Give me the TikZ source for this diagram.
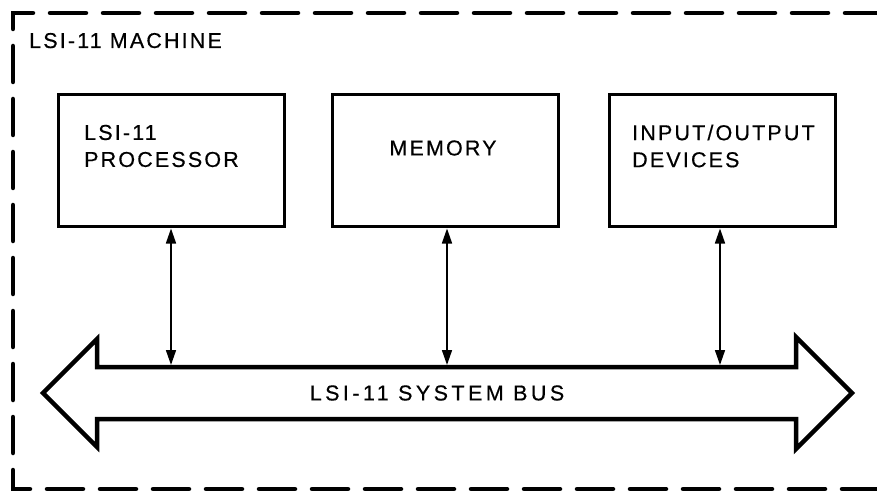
\documentclass[tikz,border=0pt]{standalone}
\usepackage{fontspec}
\setmainfont[LetterSpace=10,FakeBold=0.5]{Liberation Sans}
\newfontfamily\busfont[LetterSpace=16,FakeBold=0.5]{Liberation Sans}
\usetikzlibrary{arrows.meta}
\begin{document}
\begin{tikzpicture}[x=1pt,y=-1pt,
  blockbox/.style={draw,line width=3pt,minimum width=226pt,minimum height=132pt,inner sep=0pt},
  lbl/.style={font=\fontsize{21.5}{27}\selectfont,inner sep=0pt,align=left},
  buslink/.style={line width=1.6pt,{Triangle[length=15pt,width=10pt]}-{Triangle[length=15pt,width=10pt]}},
  frame/.style={line width=4.5pt,dash pattern=on 36pt off 17pt,dash phase=51pt,line cap=round,line join=miter}]
\useasboundingbox (0,0) rectangle (877,494);
% dashed machine frame
\coordinate (fbr) at (880,489);
\coordinate (fbl) at (13,489);
\coordinate (ftl) at (13,13);
\coordinate (ftr) at (880,13);
\draw[frame] (fbr) -- (fbl) -- (ftl) -- (ftr);
\node[lbl,anchor=base west] (mach) at (29,48) {LSI-11 MACHINE};
% blocks
\node[blockbox] (proc) at (171,161) {};
\node[blockbox] (mem) at (445.5,161) {};
\node[blockbox] (io) at (722,161) {};
\node[lbl,anchor=west] (proctxt) at (84,146) {LSI-11\\PROCESSOR};
\node[lbl] (memtxt) at (443,148) {MEMORY};
\node[lbl,anchor=west] (iotxt) at (632,146) {INPUT/OUTPUT\\DEVICES};
% bus
\draw[line width=4.5pt,line join=miter]
  (43,393) -- (97,339) -- (97,367) -- (796,367) -- (796,337) -- (852,393)
  -- (796,449) -- (796,419) -- (97,419) -- (97,447) -- cycle;
\node[lbl,font=\busfont\fontsize{21.5}{27}\selectfont] (bustxt) at (437,393) {LSI-11 SYSTEM BUS};
\coordinate (bp) at (171,365);
\coordinate (bm) at (447,365);
\coordinate (bi) at (720,365);
\draw[buslink] (proc.south -| bp) -- (bp);
\draw[buslink] (mem.south -| bm) -- (bm);
\draw[buslink] (io.south -| bi) -- (bi);
\end{tikzpicture}
\end{document}
